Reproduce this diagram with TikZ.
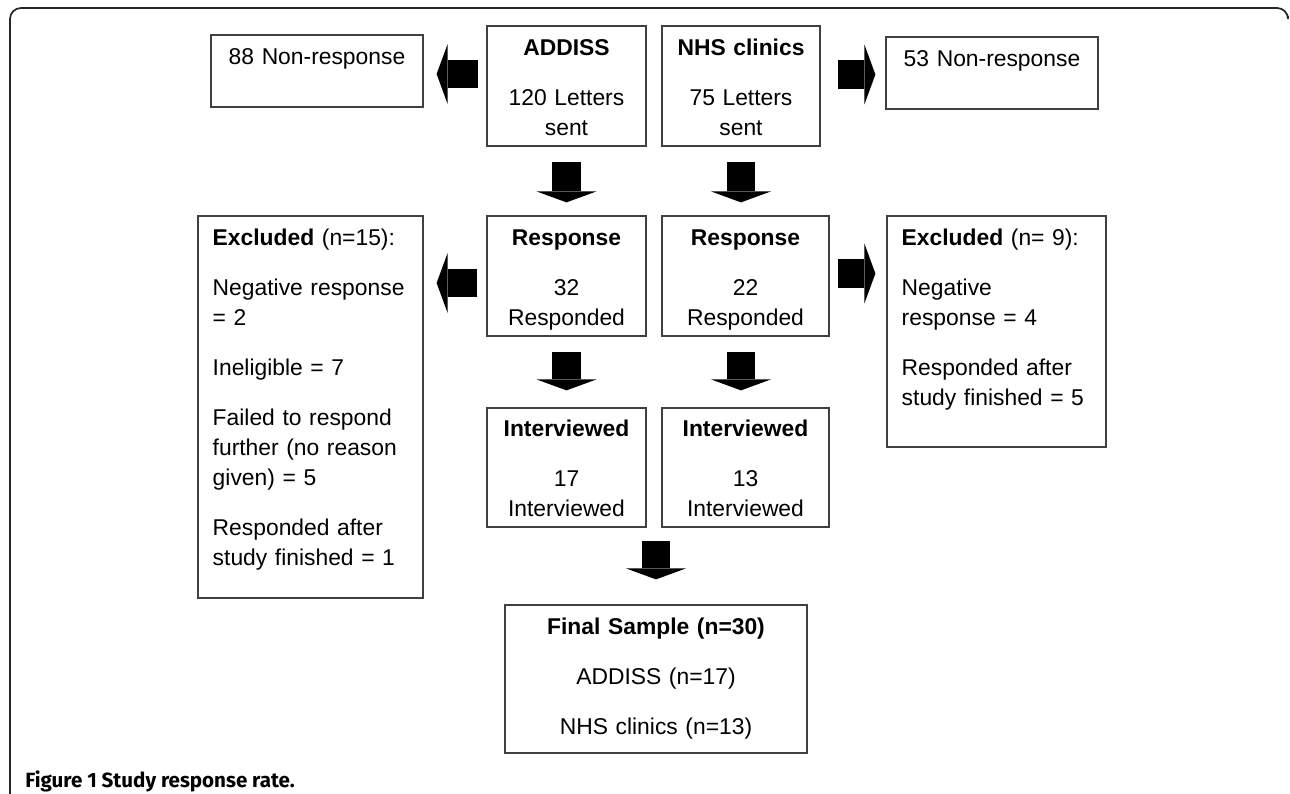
\documentclass[tikz,border=0pt]{standalone}
\usepackage{fontspec}
\setmainfont{Liberation Sans}
\newfontfamily\capfont{Fira Sans}
\usetikzlibrary{arrows.meta,calc}
\newcommand{\boxfont}{\fontsize{13}{17.07}\selectfont}

\tikzset{
  box/.style={draw=black!75, line width=0.7pt, inner sep=0pt},
  txt/.style={font=\boxfont, align=center, inner sep=0pt, anchor=base},
  txtl/.style={font=\boxfont, align=left, inner sep=0pt, anchor=base west},
  blockarrow/.style={line width=0.57cm, -{Triangle[width=1.2cm,length=0.22cm,line width=0pt]}}
}

\begin{document}
\begin{tikzpicture}

    \useasboundingbox (0,0) rectangle (25.8,-15.88);

    % Outer frame
    \draw[line width=1pt, black!85, rounded corners=0.22cm] (0.2,-15.9) -- (0.2,-0.16) -- (25.76,-0.16) -- (25.76,-0.32);

    % First row: letters sent
    \node[box, minimum width=4.24cm, minimum height=1.44cm] (nr1) at (6.34,-1.42) {};
    \node[box, minimum width=3.18cm, minimum height=2.4cm] (addiss) at (11.33,-1.72) {};
    \node[box, minimum width=3.16cm, minimum height=2.4cm] (nhs) at (14.82,-1.72) {};
    \node[box, minimum width=4.24cm, minimum height=1.44cm] (nr2) at (19.84,-1.46) {};

    \node[txt, text width=4.24cm] (nr1-t) at ([yshift=-0.6cm]nr1.north) {88 Non-response};
    \node[txt, text width=3.18cm] (addiss-t) at ([yshift=-0.6cm]addiss.north) {\textbf{ADDISS}\\[0.4cm]120 Letters\\sent};
    \node[txt, text width=3.16cm] (nhs-t) at ([yshift=-0.6cm]nhs.north) {\textbf{NHS clinics}\\[0.4cm]75 Letters\\sent};
    \node[txt, text width=4.24cm] (nr2-t) at ([yshift=-0.6cm]nr2.north) {53 Non-response};

    % Second row: responses and exclusions
    \node[box, minimum width=4.5cm, minimum height=7.64cm] (exl) at (6.21,-8.14) {};
    \node[box, minimum width=3.18cm, minimum height=2.4cm] (resp1) at (11.33,-5.52) {};
    \node[box, minimum width=3.34cm, minimum height=2.4cm] (resp2) at (14.91,-5.52) {};
    \node[box, minimum width=4.38cm, minimum height=4.62cm] (exr) at (19.93,-6.63) {};

    \node[txtl, text width=4.2cm] (exl-t) at ([xshift=0.3cm,yshift=-0.6cm]exl.north west)
      {\textbf{Excluded} (n=15):\\[0.4cm]Negative response\\= 2\\[0.4cm]Ineligible = 7\\[0.4cm]Failed to respond\\further (no reason\\given) = 5\\[0.4cm]Responded after\\study finished = 1};
    \node[txt, text width=3.18cm] (resp1-t) at ([yshift=-0.6cm]resp1.north) {\textbf{Response}\\[0.4cm]32\\Responded};
    \node[txt, text width=3.34cm] (resp2-t) at ([yshift=-0.6cm]resp2.north) {\textbf{Response}\\[0.4cm]22\\Responded};
    \node[txtl, text width=4.1cm] (exr-t) at ([xshift=0.3cm,yshift=-0.6cm]exr.north west)
      {\textbf{Excluded} (n= 9):\\[0.4cm]Negative\\response = 4\\[0.4cm]Responded after\\study finished = 5};

    % Third row: interviews
    \node[box, minimum width=3.18cm, minimum height=2.38cm] (int1) at (11.33,-9.35) {};
    \node[box, minimum width=3.34cm, minimum height=2.38cm] (int2) at (14.91,-9.35) {};

    \node[txt, text width=3.18cm] (int1-t) at ([yshift=-0.58cm]int1.north) {\textbf{Interviewed}\\[0.4cm]17\\Interviewed};
    \node[txt, text width=3.34cm] (int2-t) at ([yshift=-0.58cm]int2.north) {\textbf{Interviewed}\\[0.4cm]13\\Interviewed};

    % Final sample
    \node[box, minimum width=6.04cm, minimum height=2.96cm] (final) at (13.12,-13.58) {};
    \node[txt, text width=6.04cm] (final-t) at ([yshift=-0.6cm]final.north) {\textbf{Final Sample (n=30)}\\[0.4cm]ADDISS (n=17)\\[0.4cm]NHS clinics (n=13)};

    % Block arrows
    \draw[blockarrow, shorten <=0.16cm, shorten >=0.26cm] ([yshift=0.24cm]addiss.west) coordinate (a1) -- (a1 -| nr1.east);
    \draw[blockarrow, shorten <=0.34cm, shorten >=0.2cm] ([yshift=0.23cm]nhs.east) coordinate (a2) -- (a2 -| nr2.west);
    \draw[blockarrow, shorten <=0.3cm, shorten >=0.26cm] (addiss.south) -- (resp1.north);
    \draw[blockarrow, shorten <=0.3cm, shorten >=0.26cm] (nhs.south) -- (nhs.south |- resp2.north);
    \draw[blockarrow, shorten <=0.18cm, shorten >=0.26cm] ([yshift=-0.14cm]resp1.west) coordinate (a3) -- (a3 -| exl.east);
    \draw[blockarrow, shorten <=0.16cm, shorten >=0.22cm] ([yshift=0.05cm]resp2.east) coordinate (a4) -- (a4 -| exr.west);
    \draw[blockarrow, shorten <=0.3cm, shorten >=0.34cm] (resp1.south) -- (int1.north);
    \draw[blockarrow, shorten <=0.3cm, shorten >=0.34cm] (resp2.south -| nhs.south) -- (int2.north -| nhs.south);
    \draw[blockarrow, shorten <=0.26cm, shorten >=0.5cm] (int1.south -| final.north) -- (final.north);

    % Caption
    \node[anchor=base west, inner sep=0pt, font=\capfont\bfseries\fontsize{11.7}{14}\selectfont] (caption) at (0.5,-15.74) {Figure 1 Study response rate.};

\end{tikzpicture}
\end{document}
